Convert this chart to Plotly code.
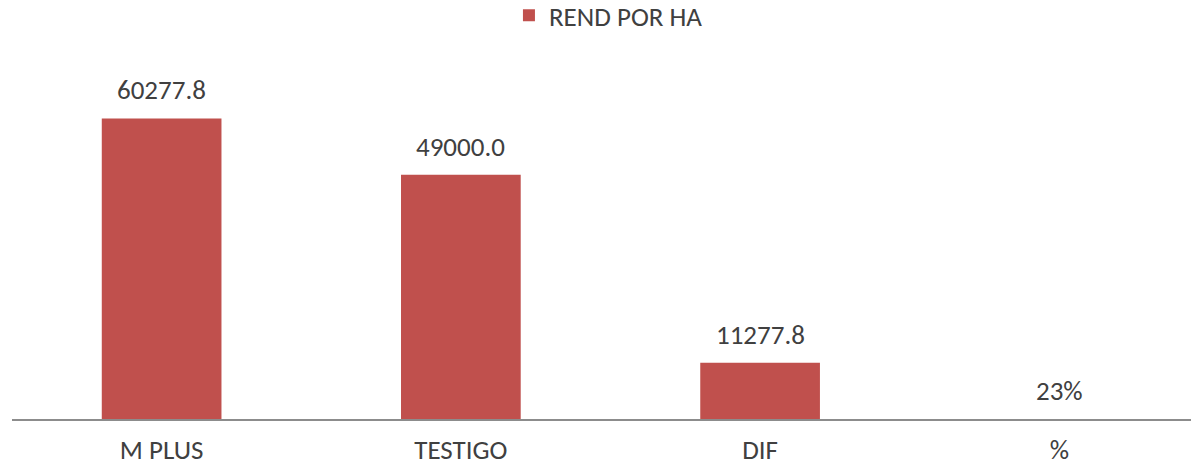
import plotly.graph_objects as go

categories = ["M PLUS", "TESTIGO", "DIF", "%"]
values = [60277.8, 49000.0, 11277.8, 0.23]
labels = ["60277.8", "49000.0", "11277.8", "23%"]
series_name = "REND POR HA"

FONT = "Carlito, Calibri, Open Sans, sans-serif"
BAR = "#C0504D"
TXT = "#404040"
FS = 27

fig = go.Figure()
fig.add_trace(go.Bar(
    x=categories, y=values, name=series_name,
    marker=dict(color=BAR, line=dict(width=0)),
    width=0.4, showlegend=True, hoverinfo="skip",
))

for c, v, t in zip(categories, values, labels):
    fig.add_annotation(x=c, y=v, text=t, showarrow=False, xanchor="center",
                       yanchor="bottom", yshift=10,
                       font=dict(family=FONT, size=FS, color=TXT))

fig.update_layout(
    width=1191, height=466,
    margin=dict(l=12, r=0, t=70, b=47, autoexpand=False),
    paper_bgcolor="white", plot_bgcolor="white",
    font=dict(family=FONT, size=FS, color=TXT),
    showlegend=True,
    legend=dict(orientation="h", x=0.4215, xanchor="left", y=1.226, yref="paper",
                yanchor="top", font=dict(family=FONT, size=FS, color=TXT),
                itemwidth=30, bgcolor="rgba(0,0,0,0)"),
)
fig.update_xaxes(range=[-0.5, 3.44], showline=True, linecolor="#8C8C8C", linewidth=2,
                 ticks="outside", ticklen=6, tickcolor="rgba(0,0,0,0)", automargin=False,
                 tickfont=dict(family=FONT, size=FS, color=TXT), showgrid=False,
                 zeroline=False, fixedrange=True)
fig.update_yaxes(range=[0, 70000], visible=False, showgrid=False, zeroline=False,
                 automargin=False, fixedrange=True)

fig.write_html("out.html", config={"displayModeBar": False},
               post_script="document.body.style.margin='0';document.body.style.overflow='hidden';")
